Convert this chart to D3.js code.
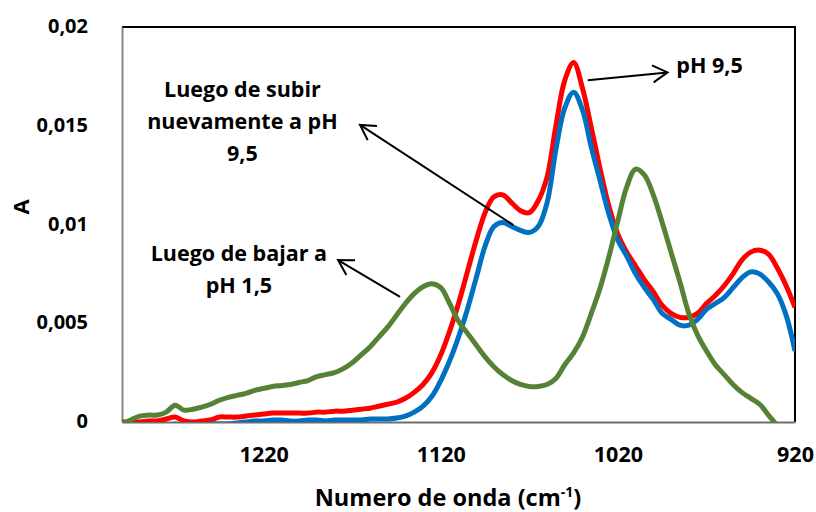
<!DOCTYPE html>
<html>
<head>
<meta charset="utf-8">
<script src="https://cdn.jsdelivr.net/npm/d3@7"></script>
<style>
  body { margin: 0; background: #fff; }
  svg { display: block; }
  text { font-family: 'Open Sans', sans-serif; font-weight: bold; fill: #000; }
</style>
</head>
<body>
<div id="chart"></div>
<script>
// wavenumber grid (cm-1)
const wavenumbers = [1300, 1295, 1290, 1285, 1280, 1275, 1270, 1265, 1260, 1255,
  1250, 1245, 1240, 1235, 1230, 1225, 1220, 1215, 1210, 1205,
  1200, 1195, 1190, 1185, 1180, 1175, 1170, 1165, 1160, 1155,
  1150, 1145, 1140, 1135, 1130, 1125, 1120, 1115, 1110, 1105,
  1100, 1095, 1090, 1085, 1080, 1075, 1070, 1065, 1060, 1055,
  1050, 1045, 1040, 1035, 1030, 1025, 1020, 1015, 1010, 1005,
  1000, 995, 990, 985, 980, 975, 970, 965, 960, 955,
  950, 945, 940, 935, 930, 925, 920]

// pH 9,5
const redA = [0.0, 0.0, 0.0, 0.00005, 0.00005, 0.00015, 0.00025, 0.00005, 0.0, 0.00005,
  0.0001, 0.00025, 0.00025, 0.00025, 0.0003, 0.00035, 0.0004, 0.00045, 0.00045, 0.00045,
  0.00045, 0.00045, 0.0005, 0.0005, 0.00055, 0.00055, 0.0006, 0.00065, 0.0007, 0.0008,
  0.0009, 0.001, 0.0012, 0.0015, 0.0019, 0.0025, 0.0034, 0.0046, 0.006, 0.0076,
  0.0092, 0.0106, 0.0114, 0.0115, 0.0111, 0.0107, 0.0106, 0.0112, 0.0124, 0.015,
  0.0173, 0.0182, 0.0169, 0.0149, 0.0128, 0.0109, 0.0095, 0.0086, 0.0079, 0.0072,
  0.0066, 0.0059, 0.0055, 0.0053, 0.0053, 0.0055, 0.006, 0.0064, 0.0069, 0.0075,
  0.0082, 0.0086, 0.0087, 0.0085, 0.0078, 0.0069, 0.0058]

// luego de subir nuevamente a pH 9,5
const blueA = [-0.0004, -0.0004, -0.0003, -0.0003, -0.0002, -0.0002, -0.0001, -0.0002, -0.0002, -0.0002,
  -0.0001, -0.0001, -0.0001, -0.00005, 0.0, 0.00005, 0.00005, 0.0001, 0.0001, 0.00005,
  0.00005, 0.0001, 0.0001, 0.00005, 0.0001, 0.0001, 0.0001, 0.0001, 0.00015, 0.00015,
  0.00015, 0.0002, 0.0003, 0.0005, 0.0008, 0.0013, 0.0021, 0.0031, 0.0043, 0.0057,
  0.0073, 0.0089, 0.0099, 0.0101, 0.0099, 0.0097, 0.0096, 0.0099, 0.0111, 0.0138,
  0.0159, 0.0167, 0.0158, 0.0139, 0.0122, 0.0105, 0.0092, 0.0084, 0.0075, 0.0068,
  0.0062, 0.0055, 0.0052, 0.0049, 0.0049, 0.0052, 0.0057, 0.006, 0.0063, 0.0068,
  0.0073, 0.0076, 0.0075, 0.0071, 0.0065, 0.0054, 0.0036]

// luego de bajar a pH 1,5
const greenA = [-0.0001, 0.0001, 0.0003, 0.00035, 0.00035, 0.0005, 0.00085, 0.0006, 0.00065, 0.00075,
  0.0009, 0.0011, 0.00125, 0.00135, 0.00145, 0.0016, 0.0017, 0.0018, 0.00185, 0.0019,
  0.002, 0.0021, 0.0023, 0.0024, 0.0025, 0.0027, 0.003, 0.0034, 0.0038, 0.0043,
  0.0048, 0.0054, 0.006, 0.0065, 0.00685, 0.007, 0.0068, 0.006, 0.0051, 0.0045,
  0.0039, 0.0033, 0.0028, 0.0024, 0.0021, 0.0019, 0.0018, 0.0018, 0.0019, 0.0022,
  0.0029, 0.0035, 0.0043, 0.0055, 0.0068, 0.0084, 0.0102, 0.0119, 0.0128, 0.0125,
  0.0115, 0.0101, 0.0086, 0.0071, 0.0055, 0.0044, 0.0036, 0.0029, 0.0024, 0.0019,
  0.0015, 0.0012, 0.0009, 0.00035, -0.0002, -0.0009, -0.0017]

const xTicks = [1220, 1120, 1020, 920]
const yTicks = [0, 0.005, 0.01, 0.015, 0.02]

const seriesColors = ['#FF0000', '#0070C0', '#568235']

const W = 816, H = 512
const margin = { top: 27, right: 21, bottom: 90, left: 122 }
const innerW = W - margin.left - margin.right
const innerH = H - margin.top - margin.bottom

const svg = d3.select('#chart').append('svg')
  .attr('width', W)
  .attr('height', H)

const g = svg.append('g')
  .attr('transform', `translate(${margin.left},${margin.top})`)

const x = d3.scaleLinear().domain([1300, 920]).range([0, innerW])
const y = d3.scaleLinear().domain([0, 0.02]).range([innerH, 0])

svg.append('defs').append('clipPath')
  .attr('id', 'plot-clip')
  .append('rect')
  .attr('width', innerW)
  .attr('height', innerH)

// plot area border (top / right black)
g.append('path')
  .attr('d', `M0,0H${innerW}V${innerH}`)
  .attr('fill', 'none')
  .attr('stroke', '#000')
  .attr('stroke-width', 2)

// axes
const fmt = d => d === 0 ? '0' : String(d).replace('.', ',')

const yAxis = g.append('g')
  .call(d3.axisLeft(y).tickValues(yTicks).tickSize(0).tickPadding(34).tickFormat(fmt))
yAxis.select('.domain').attr('stroke', '#868686').attr('stroke-width', 2)
yAxis.selectAll('text').attr('font-size', 20).attr('font-family', "'Open Sans', sans-serif").attr('font-weight', 'bold').attr('dy', '0.28em')

const xAxis = g.append('g')
  .attr('transform', `translate(0,${innerH})`)
  .call(d3.axisBottom(x).tickValues(xTicks).tickSize(0).tickPadding(25).tickFormat(d => d))
xAxis.select('.domain').attr('stroke', '#6e6e6e').attr('stroke-width', 2)
xAxis.selectAll('text').attr('font-size', 21.5).attr('font-family', "'Open Sans', sans-serif").attr('font-weight', 'bold')

// axis titles
const xt = svg.append('text')
  .attr('x', 448)
  .attr('y', 506)
  .attr('text-anchor', 'middle')
  .attr('font-size', 23.5)
xt.append('tspan').text('Numero de onda (cm')
xt.append('tspan').attr('font-size', 14).attr('dy', -9).text('-1')
xt.append('tspan').attr('dy', 9).text(')')

svg.append('text')
  .attr('transform', 'translate(29,207) rotate(-90)')
  .attr('text-anchor', 'middle')
  .attr('font-size', 22)
  .text('A')

// spectra
const line = d3.line()
  .x((d, i) => x(wavenumbers[i]))
  .y(d => y(d))
  .curve(d3.curveCatmullRom.alpha(0.5))

const lines = g.append('g').attr('clip-path', 'url(#plot-clip)')
;[redA, blueA, greenA].forEach((vals, k) => {
  lines.append('path')
    .datum(vals)
    .attr('d', line)
    .attr('fill', 'none')
    .attr('stroke', seriesColors[k])
    .attr('stroke-width', 5)
    .attr('stroke-linejoin', 'round')
})

// annotations: arrows in data units
function arrow(from, to) {
  const x1 = x(from[0]), y1 = y(from[1]), x2 = x(to[0]), y2 = y(to[1])
  const ang = Math.atan2(y1 - y2, x1 - x2)
  const len = 17, spread = Math.PI / 6
  g.append('line')
    .attr('x1', x1).attr('y1', y1).attr('x2', x2).attr('y2', y2)
    .attr('stroke', '#000').attr('stroke-width', 2)
  g.append('path')
    .attr('d', `M${x2 + len * Math.cos(ang + spread)},${y2 + len * Math.sin(ang + spread)}L${x2},${y2}L${x2 + len * Math.cos(ang - spread)},${y2 + len * Math.sin(ang - spread)}`)
    .attr('fill', 'none').attr('stroke', '#000').attr('stroke-width', 2)
}

function label(lines, wn, a, anchor) {
  const t = g.append('text')
    .attr('x', x(wn))
    .attr('y', y(a))
    .attr('text-anchor', anchor)
    .attr('font-size', 21.5)
  lines.forEach((s, i) => {
    t.append('tspan').attr('x', x(wn)).attr('dy', i === 0 ? 0 : 32).text(s)
  })
}

arrow([1037, 0.0173], [992, 0.0177])
label(['pH 9,5'], 987, 0.01767, 'start')

arrow([1079, 0.00997], [1165.6, 0.01504])
label(['Luego de subir', 'nuevamente a pH', '9,5'], 1232, 0.01646, 'middle')

arrow([1143, 0.00633], [1178, 0.0082])
label(['Luego de bajar a', 'pH 1,5'], 1234, 0.00815, 'middle')
</script>
</body>
</html>
